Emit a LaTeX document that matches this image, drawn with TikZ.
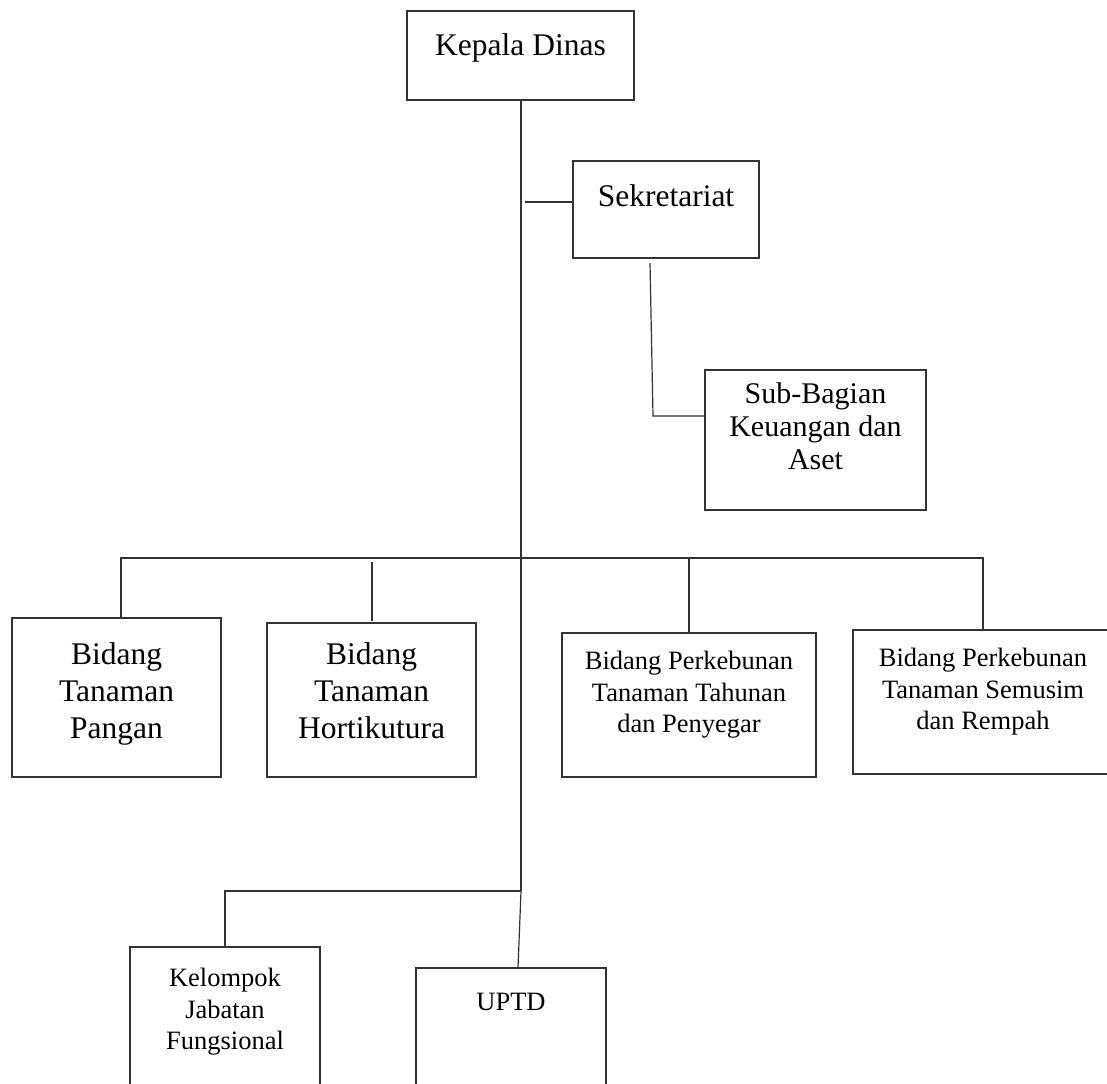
\documentclass[tikz,border=0pt]{standalone}
\usepackage{fontspec}
\setmainfont{Liberation Serif}
\usetikzlibrary{positioning,calc}

\begin{document}
\begin{tikzpicture}[
    x=1pt, y=-1pt,
    unit/.style={draw=black!80, line width=1.2pt, rectangle, inner sep=0pt, outer sep=0pt},
    link/.style={draw=black!80, line width=1.2pt},
    bigtxt/.style={font=\fontsize{31.5}{37}\selectfont, align=center, inner sep=0pt, anchor=north},
    midtxt/.style={font=\fontsize{30}{33}\selectfont, align=center, inner sep=0pt, anchor=north},
    smalltxt/.style={font=\fontsize{26.5}{31.5}\selectfont, align=center, inner sep=0pt, anchor=north},
]

\useasboundingbox (0,0) rectangle (1107,1083);
\clip (0,0) rectangle (1107,1083);

% top levels
\node[unit, minimum width=227pt, minimum height=89pt,
      label={[bigtxt, yshift=-22pt]north:Kepala Dinas}] (kd) at (520.5,55.5) {};
\node[unit, minimum width=186pt, minimum height=97pt,
      label={[bigtxt, yshift=-23pt]north:Sekretariat}] (sek) at (666,209.5) {};
\node[unit, minimum width=221pt, minimum height=140pt,
      label={[midtxt, yshift=-12pt]north:Sub-Bagian\\Keuangan dan\\Aset}] (sub) at (815.5,440) {};

% bidang row
\node[unit, minimum width=209pt, minimum height=159pt,
      label={[bigtxt, yshift=-24pt]north:Bidang\\Tanaman\\Pangan}] (pangan) at (116.5,697.5) {};
\node[unit, minimum width=209pt, minimum height=154pt,
      label={[bigtxt, yshift=-19pt]north:Bidang\\Tanaman\\Hortikutura}] (horti) at (371.5,700) {};
\node[unit, minimum width=254pt, minimum height=144pt,
      label={[smalltxt, yshift=-18pt]north:Bidang Perkebunan\\Tanaman Tahunan\\dan Penyegar}] (tahunan) at (689,705) {};
\node[unit, minimum width=260pt, minimum height=144pt,
      label={[smalltxt, yshift=-18pt]north:Bidang Perkebunan\\Tanaman Semusim\\dan Rempah}] (semusim) at (983,702) {};

% bottom row
\node[unit, minimum width=190pt, minimum height=160pt,
      label={[smalltxt, yshift=-21pt]north:Kelompok\\Jabatan\\Fungsional}] (jafung) at (225,1027) {};
\node[unit, minimum width=190pt, minimum height=160pt,
      label={[smalltxt, yshift=-25pt]north:UPTD}] (uptd) at (511,1048) {};

% junctions
\coordinate (trunk) at (521,891);
\coordinate (jsek) at (525,202);
\coordinate (sekdrop) at (650,263);
\coordinate (subbend) at (653,416);
\coordinate (busL) at (121,558);
\coordinate (busR) at (983,558);

% connectors
\draw[link] (kd.south -| trunk) -- (trunk);
\draw[link] (jsek) -- (jsek -| sek.west);
\draw[link] (sekdrop) -- (subbend) -- (subbend -| sub.west);
\draw[link] (busL |- pangan.north) -- (busL) -- (busR) -- (semusim.north);
\draw[link] (372,562) -- (372,621);
\draw[link] (tahunan.north |- busR) -- (tahunan.north);
\draw[link] (trunk) -- (jafung.north |- trunk) -- (jafung.north);
\draw[link] (trunk) -- ([xshift=7pt]uptd.north);

\end{tikzpicture}
\end{document}
